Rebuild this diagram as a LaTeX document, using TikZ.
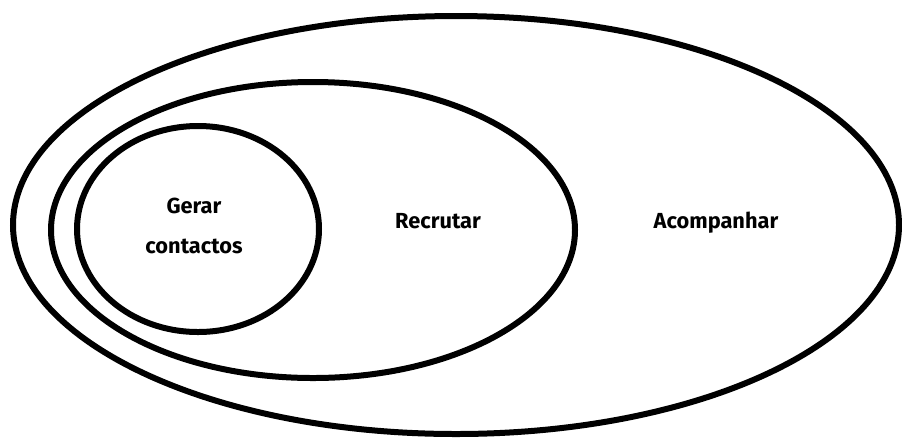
\documentclass[tikz,border=0pt]{standalone}
\usepackage{fontspec}
\setmainfont{Fira Sans}
\usepackage{tikz}

\tikzset{
    ring/.style={draw, line width=0.12cm},
    word/.style={font=\fontsize{12.4pt}{23pt}\selectfont\bfseries, inner sep=0pt, align=center}
}

\begin{document}
\begin{tikzpicture}[x=0.02cm, y=-0.02cm]
    \useasboundingbox (0,0) rectangle (902,437);
    % ellipses
    \draw [ring] (456,225) ellipse [x radius=443, y radius=209];
    \draw [ring] (313,230) ellipse [x radius=262, y radius=148];
    \draw [ring] (198,229) ellipse [x radius=121, y radius=103];
    % labels
    \node [word] (gerar) at (194,226) {Gerar\\contactos};
    \node [word, anchor=base] (recrutar) at (438,228) {Recrutar};
    \node [word, anchor=base] (acompanhar) at (716,228) {Acompanhar};
\end{tikzpicture}
\end{document}
